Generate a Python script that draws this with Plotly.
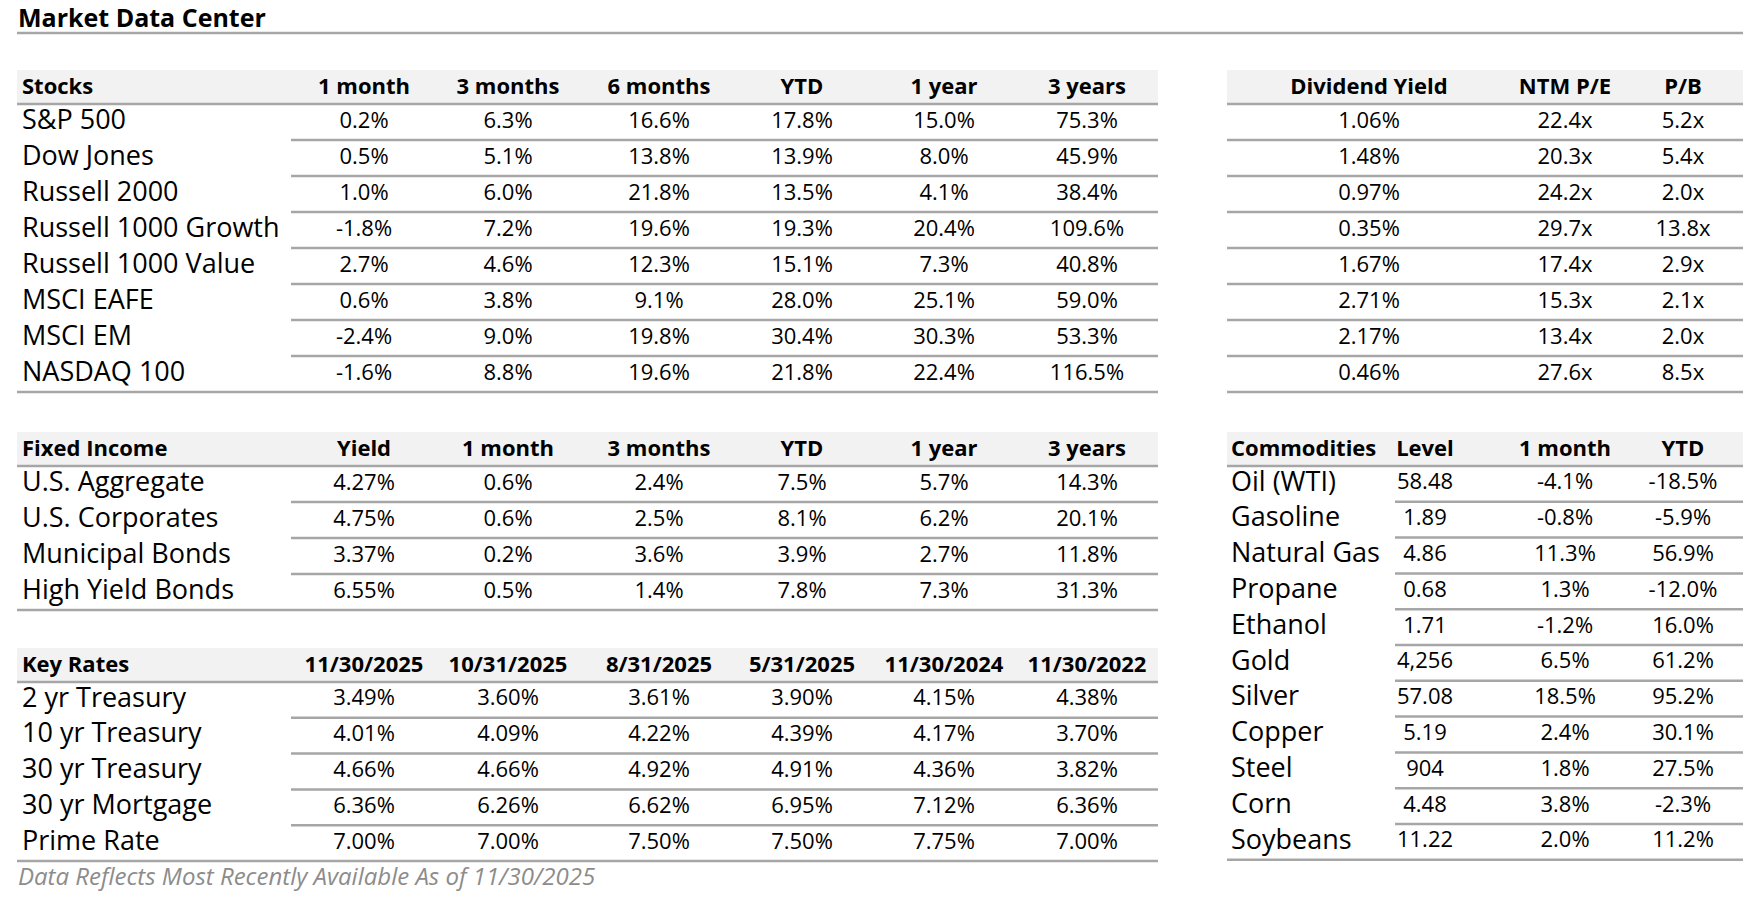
import plotly.graph_objects as go

# ---- data ----
stock_names = ["S&P 500", "Dow Jones", "Russell 2000", "Russell 1000 Growth",
               "Russell 1000 Value", "MSCI EAFE", "MSCI EM", "NASDAQ 100"]
stock_cols = ["1 month", "3 months", "6 months", "YTD", "1 year", "3 years"]
stock_1m = [0.2, 0.5, 1.0, -1.8, 2.7, 0.6, -2.4, -1.6]
stock_3m = [6.3, 5.1, 6.0, 7.2, 4.6, 3.8, 9.0, 8.8]
stock_6m = [16.6, 13.8, 21.8, 19.6, 12.3, 9.1, 19.8, 19.6]
stock_ytd = [17.8, 13.9, 13.5, 19.3, 15.1, 28.0, 30.4, 21.8]
stock_1y = [15.0, 8.0, 4.1, 20.4, 7.3, 25.1, 30.3, 22.4]
stock_3y = [75.3, 45.9, 38.4, 109.6, 40.8, 59.0, 53.3, 116.5]

val_cols = ["Dividend Yield", "NTM P/E", "P/B"]
div_yield = [1.06, 1.48, 0.97, 0.35, 1.67, 2.71, 2.17, 0.46]
ntm_pe = [22.4, 20.3, 24.2, 29.7, 17.4, 15.3, 13.4, 27.6]
pb = [5.2, 5.4, 2.0, 13.8, 2.9, 2.1, 2.0, 8.5]

fi_names = ["U.S. Aggregate", "U.S. Corporates", "Municipal Bonds", "High Yield Bonds"]
fi_cols = ["Yield", "1 month", "3 months", "YTD", "1 year", "3 years"]
fi_yield = [4.27, 4.75, 3.37, 6.55]
fi_1m = [0.6, 0.6, 0.2, 0.5]
fi_3m = [2.4, 2.5, 3.6, 1.4]
fi_ytd = [7.5, 8.1, 3.9, 7.8]
fi_1y = [5.7, 6.2, 2.7, 7.3]
fi_3y = [14.3, 20.1, 11.8, 31.3]

kr_names = ["2 yr Treasury", "10 yr Treasury", "30 yr Treasury", "30 yr Mortgage", "Prime Rate"]
kr_dates = ["11/30/2025", "10/31/2025", "8/31/2025", "5/31/2025", "11/30/2024", "11/30/2022"]
kr_nov25 = [3.49, 4.01, 4.66, 6.36, 7.00]
kr_oct25 = [3.60, 4.09, 4.66, 6.26, 7.00]
kr_aug25 = [3.61, 4.22, 4.92, 6.62, 7.50]
kr_may25 = [3.90, 4.39, 4.91, 6.95, 7.50]
kr_nov24 = [4.15, 4.17, 4.36, 7.12, 7.75]
kr_nov22 = [4.38, 3.70, 3.82, 6.36, 7.00]

comm_names = ["Oil (WTI)", "Gasoline", "Natural Gas", "Propane", "Ethanol", "Gold",
              "Silver", "Copper", "Steel", "Corn", "Soybeans"]
comm_cols = ["Level", "1 month", "YTD"]
comm_level = [58.48, 1.89, 4.86, 0.68, 1.71, 4256, 57.08, 5.19, 904, 4.48, 11.22]
comm_1m = [-4.1, -0.8, 11.3, 1.3, -1.2, 6.5, 18.5, 2.4, 1.8, 3.8, 2.0]
comm_ytd = [-18.5, -5.9, 56.9, -12.0, 16.0, 61.2, 95.2, 30.1, 27.5, -2.3, 11.2]

footnote = "Data Reflects Most Recently Available As of 11/30/2025"


def pct1(v):
    return [f"{x:.1f}%" for x in v]


def pct2(v):
    return [f"{x:.2f}%" for x in v]


def mult(v):
    return [f"{x:.1f}x" for x in v]


def level(v):
    return [f"{x:,.0f}" if x >= 100 else f"{x:.2f}" for x in v]


# ---- layout (page pixels) ----
W, H = 1758, 904
FONT = "Open Sans"
LINE = "#a6a6a6"
BAND = "#f2f2f2"
PITCH = 36
LEFT_X0, LEFT_X1, LEFT_DIV = 17, 1158, 291
RIGHT_X0, RIGHT_X1, COMM_DIV = 1227, 1743, 1395
left_centers = [364, 508, 659, 802, 944, 1087]
val_centers = [1369, 1565, 1683]
comm_centers = [1425, 1565, 1683]

fig = go.Figure()
shapes = []


def add_table(header_y, label, names, cols, columns, centers, x0, x1, div,
              label_x, show_names=True, pitch=PITCH):
    shapes.append(dict(type="rect", x0=x0, x1=x1, y0=header_y - 17, y1=header_y + 17,
                       fillcolor=BAND, line_width=0, layer="below"))
    shapes.append(dict(type="line", x0=x0, x1=x1, y0=header_y + 17, y1=header_y + 17,
                       line=dict(color=LINE, width=2.5)))
    ty = header_y + 1
    if label:
        fig.add_trace(go.Scatter(x=[label_x], y=[ty], mode="text",
                                 text=[f"<b>{label}</b>"], textposition="middle right",
                                 textfont=dict(family=FONT, size=22, color="black")))
    fig.add_trace(go.Scatter(x=centers, y=[ty] * len(cols), mode="text",
                             text=[f"<b>{c}</b>" for c in cols], textposition="middle center",
                             textfont=dict(family=FONT, size=22, color="black")))
    n = len(columns[0])
    rows = [header_y + 17 + pitch / 2 + pitch * i for i in range(n)]
    if show_names:
        fig.add_trace(go.Scatter(x=[label_x] * n, y=rows, mode="text", text=names,
                                 textposition="middle right",
                                 textfont=dict(family=FONT, size=27, color="black")))
    for cx, col in zip(centers, columns):
        fig.add_trace(go.Scatter(x=[cx] * n, y=rows, mode="text", text=col,
                                 textposition="middle center",
                                 textfont=dict(family=FONT, size=22, color="black")))
    for i, ry in enumerate(rows):
        start = x0 if (i == n - 1 or not show_names) else div
        shapes.append(dict(type="line", x0=start, x1=x1, y0=ry + pitch / 2, y1=ry + pitch / 2,
                           line=dict(color=LINE, width=2.5)))


add_table(87, "Stocks", stock_names, stock_cols,
          [pct1(stock_1m), pct1(stock_3m), pct1(stock_6m), pct1(stock_ytd),
           pct1(stock_1y), pct1(stock_3y)],
          left_centers, LEFT_X0, LEFT_X1, LEFT_DIV, 22)
add_table(87, None, stock_names, val_cols,
          [pct2(div_yield), mult(ntm_pe), mult(pb)],
          val_centers, RIGHT_X0, RIGHT_X1, RIGHT_X0, 1231, show_names=False)
add_table(449, "Fixed Income", fi_names, fi_cols,
          [pct2(fi_yield), pct1(fi_1m), pct1(fi_3m), pct1(fi_ytd), pct1(fi_1y), pct1(fi_3y)],
          left_centers, LEFT_X0, LEFT_X1, LEFT_DIV, 22)
add_table(665, "Key Rates", kr_names, kr_dates,
          [pct2(kr_nov25), pct2(kr_oct25), pct2(kr_aug25), pct2(kr_may25),
           pct2(kr_nov24), pct2(kr_nov22)],
          left_centers, LEFT_X0, LEFT_X1, LEFT_DIV, 22, pitch=35.8)
add_table(449, "Commodities", comm_names, comm_cols,
          [level(comm_level), pct1(comm_1m), pct1(comm_ytd)],
          comm_centers, RIGHT_X0, RIGHT_X1, COMM_DIV, 1231, pitch=35.8)

# title + rule
fig.add_trace(go.Scatter(x=[18], y=[21], mode="text", text=["<b>Market Data Center</b>"],
                         textposition="middle right",
                         textfont=dict(family=FONT, size=25, color="black")))
shapes.append(dict(type="line", x0=17, x1=RIGHT_X1, y0=33, y1=33,
                   line=dict(color=LINE, width=2.5)))

# footnote
fig.add_trace(go.Scatter(x=[18], y=[879], mode="text", text=[f"<i>{footnote}</i>"],
                         textposition="middle right",
                         textfont=dict(family=FONT, size=24, color="#8c8c8c")))

fig.update_layout(
    width=W, height=H, margin=dict(l=0, r=0, t=0, b=0),
    paper_bgcolor="white", plot_bgcolor="white", showlegend=False,
    shapes=shapes,
    xaxis=dict(range=[0, W], visible=False, fixedrange=True),
    yaxis=dict(range=[H, 0], visible=False, fixedrange=True),
)
fig.update_traces(hoverinfo="skip", cliponaxis=False)

# drop the default page margin so the figure fills the window
fig.write_html("out.html", config={"displayModeBar": False},
               post_script="document.body.style.margin = '0';")
